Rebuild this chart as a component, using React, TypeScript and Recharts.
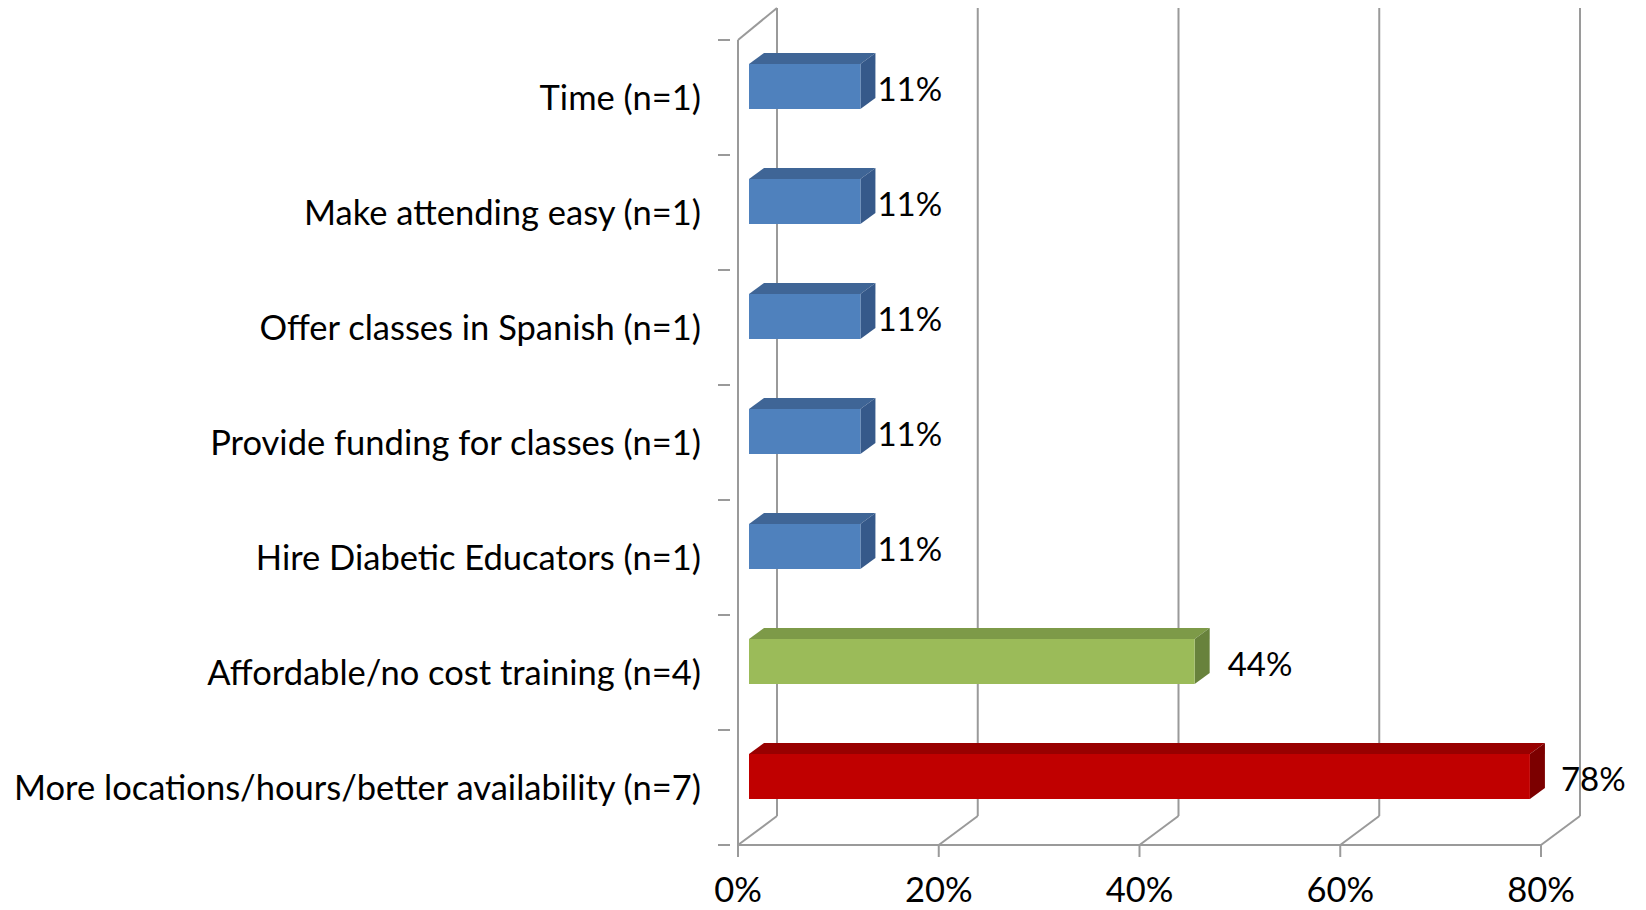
import { BarChart, Bar, XAxis, YAxis, CartesianGrid, LabelList, Cell } from "recharts";

// survey answers, top to bottom
const categories = [
  "Time (n=1)",
  "Make attending easy (n=1)",
  "Offer classes in Spanish (n=1)",
  "Provide funding for classes (n=1)",
  "Hire Diabetic Educators (n=1)",
  "Affordable/no cost training (n=4)",
  "More locations/hours/better availability (n=7)",
];
const shares = [0.111, 0.111, 0.111, 0.111, 0.111, 0.444, 0.778];
const shareLabels = ["11%", "11%", "11%", "11%", "11%", "44%", "78%"];
const xTicks = [0, 0.2, 0.4, 0.6, 0.8];
const xTickLabels = ["0%", "20%", "40%", "60%", "80%"];

const rows = categories.map((name, i) => ({ name, share: shares[i], label: shareLabels[i] }));

// face colours: front / top / side
const BLUE = { front: "#4F81BD", top: "#3F6596", side: "#36598A" };
const GREEN = { front: "#9BBB59", top: "#7D9A48", side: "#68823C" };
const RED = { front: "#C00000", top: "#980000", side: "#7C0000" };
const barColors = [BLUE, BLUE, BLUE, BLUE, BLUE, GREEN, RED];
const labelGap = [17, 17, 17, 17, 17, 33, 31];

const W = 1646;
const H = 910;
const TOP = 40;
const BOTTOM = 845;
const BAND = (BOTTOM - TOP) / categories.length;
const WALL_DX = 39; // back wall offset
const WALL_DY = 29;
const DX = 11; // bar front face offset
const DY = -11;
const DEPTH_X = 15; // bar depth
const DEPTH_Y = 11;
const GRAY = "#9A9A9A";
const FONT = "Lato, 'Open Sans', sans-serif";
const LABEL_SIZE = 34.5;
const VALUE_SIZE = 33;

function Box3D(props: any) {
  const { x, y, width, height, index } = props;
  const c = barColors[index];
  const fx = x + DX;
  const fy = y + DY;
  const r = fx + width;
  return (
    <g>
      <polygon
        points={`${fx},${fy} ${r},${fy} ${r + DEPTH_X},${fy - DEPTH_Y} ${fx + DEPTH_X},${fy - DEPTH_Y}`}
        fill={c.top}
      />
      <polygon
        points={`${r},${fy} ${r + DEPTH_X},${fy - DEPTH_Y} ${r + DEPTH_X},${fy + height - DEPTH_Y} ${r},${fy + height}`}
        fill={c.side}
      />
      <rect x={fx} y={fy} width={width} height={height} fill={c.front} />
    </g>
  );
}

function ValueLabel(props: any) {
  const { x, y, width, height, index, value } = props;
  return (
    <text
      x={x + DX + width + labelGap[index]}
      y={y + DY + height / 2 + 14}
      fontSize={VALUE_SIZE}
      fontFamily={FONT}
      fill="#000"
    >
      {value}
    </text>
  );
}

function WallLine(props: any) {
  const { x1, y1, y2, index } = props;
  const bx = x1 + WALL_DX;
  return (
    <g key={`wall-${index}`}>
      <line x1={x1} y1={y2} x2={bx} y2={y2 - WALL_DY} stroke={GRAY} strokeWidth={2} />
      <line x1={bx} y1={y2 - WALL_DY} x2={bx} y2={y1 - WALL_DY - 3} stroke={GRAY} strokeWidth={2} />
      {index === 0 && (
        <line x1={x1} y1={y1} x2={bx} y2={y1 - WALL_DY - 3} stroke={GRAY} strokeWidth={2} />
      )}
    </g>
  );
}

function XTick(props: any) {
  const { x, index } = props;
  return (
    <text x={x} y={902} textAnchor="middle" fontSize={LABEL_SIZE} fontFamily={FONT} fill="#000">
      {xTickLabels[index]}
    </text>
  );
}

function YTick(props: any) {
  const { x, y, payload, index } = props;
  return (
    <g>
      <line x1={x - 12} y1={y - BAND / 2} x2={x} y2={y - BAND / 2} stroke={GRAY} strokeWidth={2} />
      {index === categories.length - 1 && (
        <line x1={x - 12} y1={y + BAND / 2} x2={x} y2={y + BAND / 2} stroke={GRAY} strokeWidth={2} />
      )}
      <text x={701} y={y + 12} textAnchor="end" fontSize={LABEL_SIZE} fontFamily={FONT} fill="#000">
        {payload.value}
      </text>
    </g>
  );
}

export default function App() {
  return (
    <div style={{ position: "absolute", left: 0, top: 0, background: "#fff" }}>
      <BarChart
        width={W}
        height={H}
        data={rows}
        layout="vertical"
        margin={{ top: TOP, right: 105, bottom: 0, left: 0 }}
      >
        <CartesianGrid horizontal={false} vertical={WallLine} />
        <XAxis
          type="number"
          domain={[0, 0.8]}
          ticks={xTicks}
          interval={0}
          height={H - BOTTOM}
          axisLine={{ stroke: GRAY, strokeWidth: 2 }}
          tickLine={{ stroke: GRAY, strokeWidth: 2 }}
          tickSize={12}
          tick={XTick}
        />
        <YAxis
          type="category"
          dataKey="name"
          width={738}
          interval={0}
          axisLine={{ stroke: GRAY, strokeWidth: 2 }}
          tickLine={false}
          tick={YTick}
        />
        <Bar dataKey="share" barSize={45} shape={Box3D} isAnimationActive={false}>
          {rows.map((r, i) => (
            <Cell key={r.name} fill={barColors[i].front} />
          ))}
          <LabelList dataKey="label" content={ValueLabel} />
        </Bar>
      </BarChart>
    </div>
  );
}
